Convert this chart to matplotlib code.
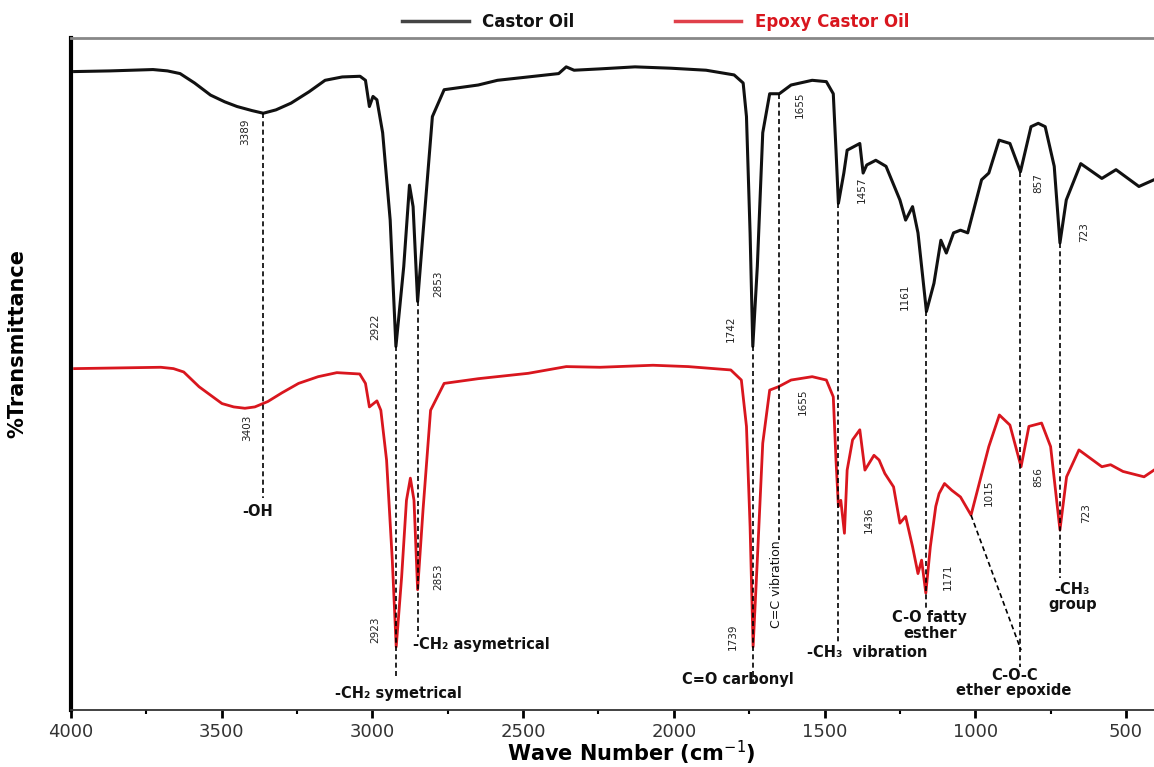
import matplotlib
matplotlib.use('Agg')
from matplotlib import pyplot as plt
from matplotlib.ticker import MultipleLocator

# FTIR spectra, wavenumber (cm-1) vs %T (arbitrary offset scale)
castor_wn = [3988, 3870, 3728, 3680, 3638, 3590, 3537, 3490, 3449, 3400, 3362, 3320,
             3270, 3210, 3157, 3100, 3041, 3023, 3010,
             2998, 2985, 2966, 2941, 2922, 2896, 2877, 2865, 2850, 2832, 2801, 2762,
             2649, 2585, 2382, 2357, 2331, 2245, 2129, 2010, 1893, 1800, 1770, 1759,
             1747, 1738, 1723, 1705, 1682, 1650, 1611, 1541, 1494, 1471, 1462, 1454,
             1436, 1425, 1383, 1372, 1360, 1330, 1296, 1250, 1231, 1208, 1190, 1172,
             1162, 1137, 1114, 1096, 1072, 1049, 1025, 979, 955, 921, 885, 850, 815,
             791, 768, 738, 719, 698, 650, 580, 533, 457, 407]
castor_t = [95.0, 95.1, 95.3, 95.1, 94.7, 93.3, 91.5, 90.5, 89.8, 89.2, 88.8, 89.3,
            90.3, 92.0, 93.7, 94.2, 94.3, 93.7, 89.8,
            91.3, 90.8, 85.9, 72.9, 54.1, 66.0, 78.1, 74.9, 60.8, 71.0, 88.3, 92.3,
            93.0, 93.7, 94.7, 95.7, 95.2, 95.4, 95.7, 95.5, 95.2, 94.5, 93.3, 88.3,
            71.0, 54.1, 66.0, 85.9, 91.7, 91.7, 93.0, 93.7, 93.5, 91.7, 83.3, 75.4,
            79.9, 83.3, 84.3, 79.9, 81.1, 81.8, 80.9, 75.9, 72.9, 74.9, 71.0, 63.5,
            59.3, 63.5, 69.9, 68.0, 71.0, 71.4, 71.0, 78.9, 79.9, 84.8, 84.3, 80.1, 86.8,
            87.3, 86.8, 80.9, 69.5, 75.9, 81.3, 79.1, 80.4, 77.9, 78.9]

epoxy_wn = [3988, 3702, 3660, 3626, 3575, 3499, 3460, 3423, 3390, 3347, 3300, 3245,
            3180, 3118, 3042, 3023, 3010,
            2985, 2972, 2953, 2934, 2921, 2903, 2887, 2874, 2862, 2850, 2832, 2807,
            2762, 2649, 2483, 2357, 2245, 2069, 1952, 1811, 1776, 1759, 1747, 1737,
            1723, 1705, 1682, 1653, 1611, 1541, 1494, 1471, 1462, 1454, 1446, 1434,
            1425, 1407, 1383, 1366, 1336, 1319, 1300, 1271, 1250, 1231, 1208, 1190,
            1178, 1164, 1149, 1131, 1120, 1102, 1078, 1049, 1014, 984, 955, 920, 885,
            848, 822, 780, 750, 719, 697, 656, 580, 551, 510, 440, 407]
epoxy_t = [50.8, 51.0, 50.8, 50.3, 48.1, 45.6, 45.1, 44.9, 45.1, 45.9, 47.2, 48.6,
           49.6, 50.2, 50.0, 48.6, 45.1,
           46.0, 44.6, 37.2, 22.3, 9.4, 19.8, 31.2, 34.5, 31.2, 17.9, 29.8, 44.6,
           48.6, 49.3, 50.1, 51.1, 51.0, 51.3, 51.1, 50.6, 49.1, 42.2, 27.3, 9.4,
           22.3, 39.7, 47.6, 48.1, 49.1, 49.6, 49.1, 46.6, 37.2, 30.3, 31.2, 26.3,
           35.7, 40.2, 41.7, 35.7, 37.9, 37.2, 35.2, 33.2, 27.8, 28.8, 24.3, 20.3,
           22.3, 17.4, 24.3, 30.3, 32.2, 33.7, 32.7, 31.7, 29.0, 34.2, 39.2, 43.9, 42.4,
           36.2, 42.2, 42.7, 39.2, 26.8, 34.7, 38.7, 36.2, 36.5, 35.5, 34.7, 35.7]

# peak labels: (text, wavenumber, %T)
castor_peaks = [('3389', 3423, 86.0), ('2922', 2991, 57.0), ('2853', 2782, 63.5),
                ('1742', 1811, 56.8), ('1655', 1583, 90.0), ('1457', 1377, 77.4),
                ('1161', 1234, 61.5), ('857', 792, 78.4), ('723', 639, 71.1)]
epoxy_peaks = [('3403', 3416, 42.0), ('2923', 2991, 11.9), ('2853', 2782, 19.8),
               ('1739', 1805, 10.9), ('1655', 1572, 45.8), ('1436', 1354, 28.3),
               ('1171', 1090, 19.8), ('1015', 955, 32.3), ('856', 792, 34.7),
               ('723', 632, 29.3)]

# dashed guide lines: (wavenumber, top %T, bottom %T)
guides = [(3362, 88.8, 31.5), (2922, 54.1, 4.8), (2850, 60.8, 10.9),
          (1738, 54.1, 3.9), (1650, 91.7, 25.3), (1454, 75.4, 10.0),
          (1164, 59.3, 15.2), (850, 80.1, 6.4), (719, 69.5, 19.6)]

# band assignments: (text, wavenumber, %T, ha)
bands = [('-OH', 3380, 29.5, 'center'),
         ('-CH₂ asymetrical', 2865, 9.7, 'left'),
         ('-CH₂ symetrical', 2912, 2.5, 'center'),
         ('C=O carbonyl', 1787, 4.5, 'center'),
         ('-CH₃  vibration', 1359, 8.5, 'center'),
         ('C-O fatty\nesther', 1151, 12.6, 'center'),
         ('C-O-C\nether epoxide', 871, 4.0, 'center'),
         ('-CH₃\ngroup', 678, 16.8, 'center')]

fig = plt.figure(figsize=(11.54, 7.67), dpi=100)
ax = fig.add_axes([0.0615, 0.0743, 0.9385, 0.8762])

ax.plot(castor_wn, castor_t, color='#111111', lw=2.2, label='Castor Oil')
ax.plot(epoxy_wn, epoxy_t, color='#d9161e', lw=2.0, label='Epoxy Castor Oil')

for wn, top, bottom in guides:
    ax.plot([wn, wn], [top, bottom], color='black', lw=1.2, ls=(0, (3, 2)))
# diagonal guide from 1015 band to the epoxide label
ax.plot([1014, 848], [29.0, 8.9], color='black', lw=1.2, ls=(0, (3, 2)))

for txt, wn, t in castor_peaks + epoxy_peaks:
    ax.text(wn, t, txt, rotation=90, ha='center', va='center', fontsize=7.5,
            color='#222222')

for txt, wn, t, ha in bands:
    ax.text(wn, t, txt, ha=ha, va='center', fontsize=10.5, fontweight='bold',
            linespacing=1.05, color='#111111')
ax.text(1661, 18.75, 'C=C vibration', rotation=90, ha='center', va='center',
        fontsize=9, color='#111111')

ax.set_xlim(4000, 407)
ax.set_ylim(0, 100)
ax.xaxis.set_major_locator(MultipleLocator(500))
ax.xaxis.set_minor_locator(MultipleLocator(250))
ax.tick_params(axis='x', which='major', length=6, width=2, direction='out',
               labelsize=13, labelcolor='#333333', pad=3)
ax.tick_params(axis='x', which='minor', length=3, width=1.5, direction='out')
ax.set_yticks([])

ax.spines['left'].set_linewidth(3)
ax.spines['left'].set_color('black')
ax.spines['bottom'].set_linewidth(1.3)
ax.spines['bottom'].set_color('#333333')
ax.spines['top'].set_linewidth(2)
ax.spines['top'].set_color('#888888')
ax.spines['right'].set_visible(False)

ax.set_xlabel('Wave Number (cm$^{-1}$)', fontsize=15, fontweight='bold')
ax.xaxis.set_label_coords(0.517, -0.043)
ax.set_ylabel('%Transmittance', fontsize=15, fontweight='bold')
ax.yaxis.set_label_coords(-0.04, 0.546)

leg = ax.legend(loc='center', bbox_to_anchor=(0.54, 1.024), ncol=2, frameon=False,
                handlelength=4, columnspacing=6, borderaxespad=0,
                prop={'weight': 'bold', 'size': 12})
leg.get_lines()[0].set_color('#444444')
leg.get_lines()[1].set_color('#e0404a')
for line in leg.get_lines():
    line.set_linewidth(2.5)
leg.get_texts()[0].set_color('#111111')
leg.get_texts()[1].set_color('#d9161e')

fig.savefig('out.png', dpi=100)
